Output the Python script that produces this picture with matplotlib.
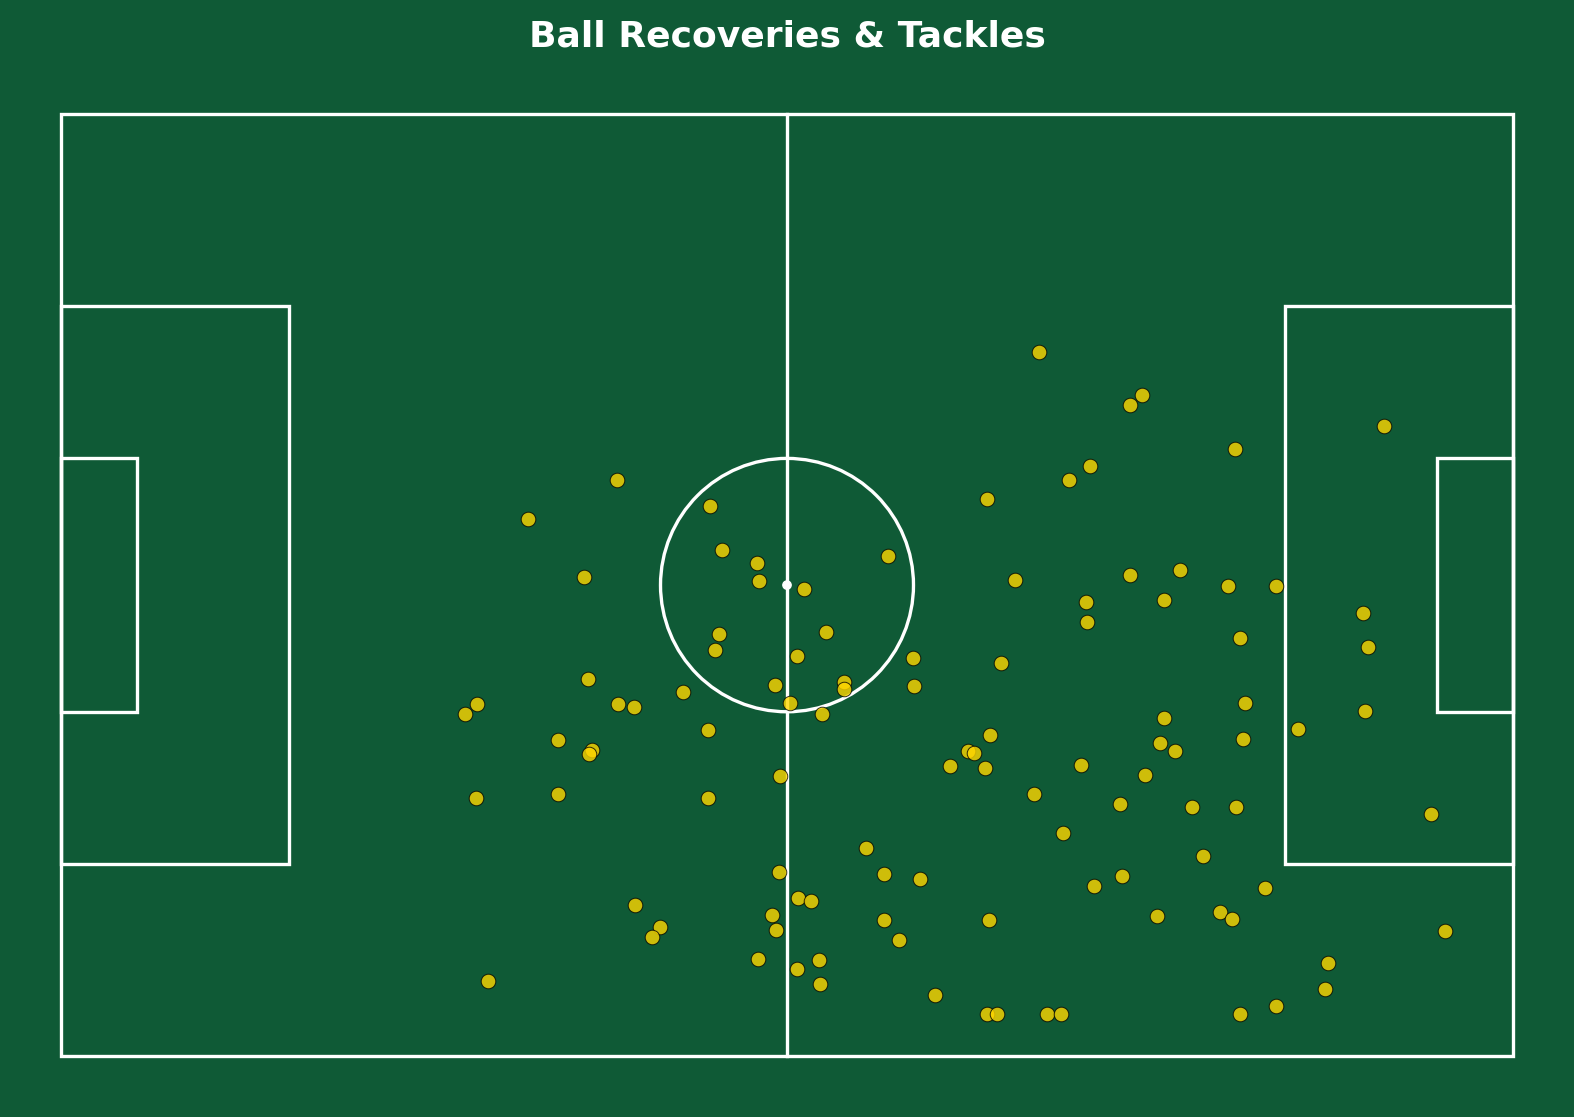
import matplotlib
matplotlib.use("Agg")
import matplotlib.pyplot as plt
from matplotlib.patches import Rectangle, Circle

# Pitch dimensions (metres)
PITCH_LENGTH = 105
PITCH_WIDTH = 68

# Event locations (x along pitch length, y across width, metres from bottom-left)
event_x = [70.7, 78.2, 77.3, 95.7, 84.9, 74.4, 72.9, 40.2, 67.0, 46.9,
           33.8, 47.8, 59.8, 50.3, 80.9, 77.3, 37.8, 50.5, 69.0, 84.4,
           87.9, 53.7, 74.1, 79.8, 94.2, 74.2, 47.6, 55.3, 85.3, 94.5,
           47.3, 53.2, 61.6, 68.0, 38.1, 56.6, 56.6, 51.6, 61.7, 45.0,
           30.1, 40.3, 41.4, 52.7, 85.6, 29.2, 55.0, 94.3, 79.8, 46.8,
           89.5, 67.2, 35.9, 85.5, 79.5, 38.4, 38.2, 65.6, 66.0, 80.6,
           64.3, 66.8, 73.8, 52.0, 78.4, 35.9, 70.4, 30.0, 46.8, 76.6,
           81.8, 85.0, 99.1, 72.5, 58.2, 82.6, 51.9, 59.5, 62.1, 76.7,
           74.7, 87.1, 53.3, 54.2, 41.5, 51.4, 59.5, 67.1, 79.3, 83.8,
           84.7, 43.3, 51.7, 42.7, 60.6, 100.1, 50.4, 54.8, 91.6, 53.2,
           30.9, 54.9, 91.4, 63.2, 87.9, 67.0, 67.7, 71.3, 72.3, 85.3]
event_y = [50.8, 47.7, 47.0, 45.5, 43.8, 42.6, 41.6, 41.6, 40.2, 39.7,
           38.8, 36.5, 36.1, 35.6, 35.1, 34.7, 34.6, 34.3, 34.4, 33.9,
           33.9, 33.7, 32.8, 32.9, 32.0, 31.3, 30.5, 30.6, 30.2, 29.5,
           29.3, 28.9, 28.7, 28.4, 27.2, 27.0, 26.5, 26.8, 26.7, 26.3,
           25.4, 25.4, 25.2, 25.5, 25.5, 24.7, 24.7, 24.9, 24.4, 23.5,
           23.6, 23.2, 22.8, 22.9, 22.6, 22.1, 21.8, 22.0, 21.9, 22.0,
           20.9, 20.8, 21.0, 20.2, 20.3, 18.9, 18.9, 18.6, 18.6, 18.2,
           18.0, 18.0, 17.5, 16.1, 15.0, 14.4, 13.3, 13.1, 12.8, 13.0,
           12.3, 12.1, 11.4, 11.2, 10.9, 10.2, 9.8, 9.8, 10.1, 10.4,
           9.9, 9.3, 9.1, 8.6, 8.4, 9.0, 7.0, 6.9, 6.7, 6.3,
           5.4, 5.2, 4.8, 4.4, 3.6, 3.0, 3.0, 3.0, 3.0, 3.0]

TITLE = "Ball Recoveries & Tackles"

BG = "#0f5a36"
LINE = "white"

fig = plt.figure(figsize=(15.74, 11.17), dpi=100, facecolor=BG)
ax = fig.add_axes([0, 0, 1, 1])
ax.set_facecolor(BG)
ax.set_xlim(-4.43, 109.43)
ax.set_ylim(-4.42, 76.26)
ax.axis("off")

lw = 2.4
L, W = PITCH_LENGTH, PITCH_WIDTH
# outline
ax.add_patch(Rectangle((0, 0), L, W, fill=False, ec=LINE, lw=lw, zorder=1))
# halfway line
ax.plot([L / 2, L / 2], [0, W], color=LINE, lw=lw, zorder=1)
# centre circle and spot
ax.add_patch(Circle((L / 2, W / 2), 9.15, fill=False, ec=LINE, lw=lw, zorder=1))
ax.add_patch(Circle((L / 2, W / 2), 0.3, color=LINE, zorder=1))
# penalty areas
ax.add_patch(Rectangle((0, W / 2 - 20.16), 16.5, 40.32, fill=False, ec=LINE, lw=lw, zorder=1))
ax.add_patch(Rectangle((L - 16.5, W / 2 - 20.16), 16.5, 40.32, fill=False, ec=LINE, lw=lw, zorder=1))
# six-yard boxes
ax.add_patch(Rectangle((0, W / 2 - 9.16), 5.5, 18.32, fill=False, ec=LINE, lw=lw, zorder=1))
ax.add_patch(Rectangle((L - 5.5, W / 2 - 9.16), 5.5, 18.32, fill=False, ec=LINE, lw=lw, zorder=1))

ax.scatter(event_x, event_y, s=110, color="#FFD700", alpha=0.8,
           edgecolors="black", linewidths=0.7, zorder=3)

fig.text(0.5, 0.967, TITLE, ha="center", va="center", color="white",
         fontsize=26, fontweight="bold")

fig.savefig("out.png", dpi=100, facecolor=BG)
